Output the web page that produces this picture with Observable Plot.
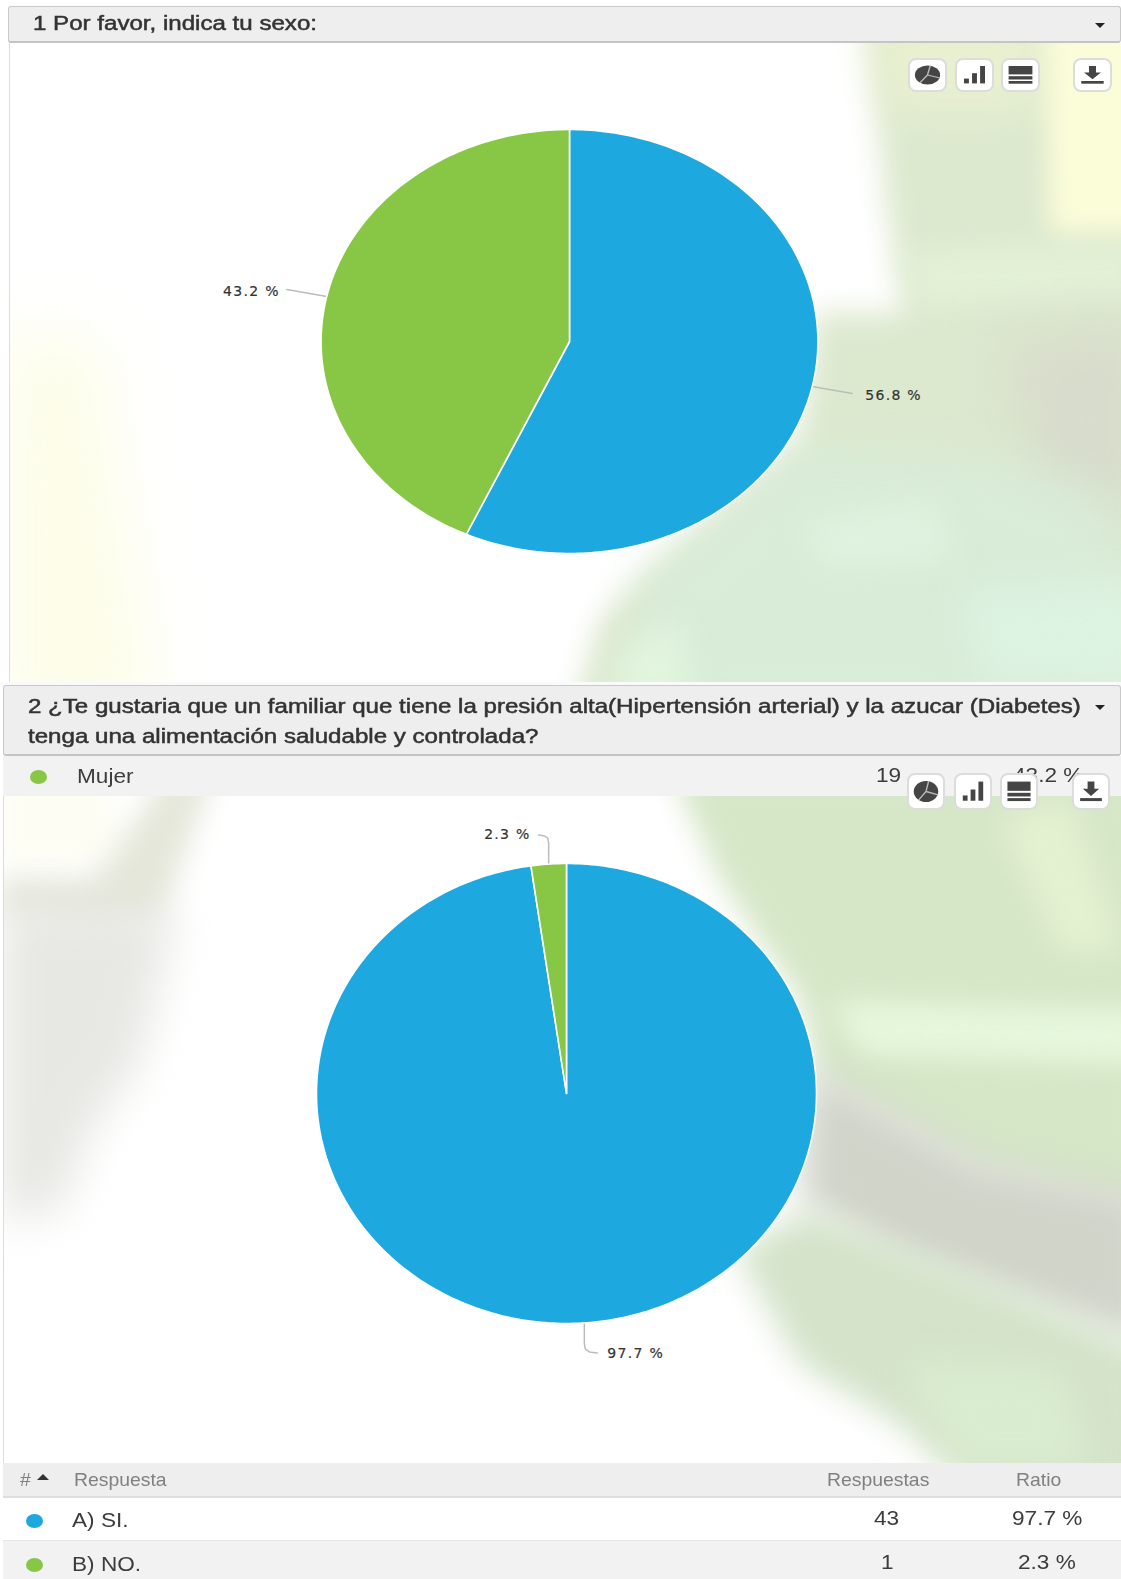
<!DOCTYPE html>
<html lang="es">
<head>
<meta charset="utf-8">
<title>Encuesta</title>
<script src="https://cdn.jsdelivr.net/npm/d3@7"></script>
<script src="https://cdn.jsdelivr.net/npm/@observablehq/plot@0.6"></script>
<style>
html,body{margin:0;padding:0;background:#fff}
#page{position:relative;width:1121px;height:1579px;overflow:hidden;font-family:"Liberation Sans",Arial,sans-serif;background:#fff}
.abs{position:absolute}
.panel{position:absolute;overflow:hidden;background:#fff}
.blurwrap{position:absolute;inset:-60px}
.blob{position:absolute;inset:0}
.bar{position:absolute;background:#eeeeee;border:1px solid #c9c9c9;border-bottom:2px solid #c4c4c4;border-radius:3px;box-sizing:border-box}
.title{position:absolute;font-size:20px;line-height:24px;color:#333;white-space:nowrap;-webkit-text-stroke:.5px #333;transform:scaleX(1.205);transform-origin:0 50%}
.caret{position:absolute;width:0;height:0;border-left:5px solid transparent;border-right:5px solid transparent;border-top:5px solid #222}
.row{position:absolute;left:3px;right:0}
.cell{position:absolute;font-size:20px;line-height:24px;color:#3c3c3c;white-space:nowrap;transform:scaleX(1.13);transform-origin:0 50%}
.head{color:#808080;font-size:19px;transform:scaleX(1.02)}
.dot{position:absolute;width:17px;height:14px;border-radius:50%}
.icon{position:absolute;background:#fff;border:2px solid #dcdcdc;border-radius:8px;box-sizing:border-box}
.icon svg{position:absolute;inset:0;width:100%;height:100%}
.chart{position:absolute}
.chart svg{max-width:none;display:block;background:transparent}
.chart text{letter-spacing:1.3px;stroke:#333;stroke-width:.2px}
</style>
</head>
<body>
<div id="page"></div>
<script>
// ---- chart data ----
const q1Title = "1 Por favor, indica tu sexo:";
const q1Names = ["Hombre", "Mujer"];
const q1Counts = [25, 19];
const q1Ratios = ["56.8 %", "43.2 %"];

const q2TitleLines = [
  "2 ¿Te gustaria que un familiar que tiene la presión alta(Hipertensión arterial) y la azucar (Diabetes)",
  "tenga una alimentación saludable y controlada?"
];
const q2Names = ["A) SI.", "B) NO."];
const q2Counts = [43, 1];
const q2Ratios = ["97.7 %", "2.3 %"];

const tableHeads = ["#", "Respuesta", "Respuestas", "Ratio"];
const sliceColors = ["#1ea8e0", "#88c646"];

// ---- page helpers ----
const page = document.getElementById("page");
function el(cls, css, text, parent) {
  const d = document.createElement("div");
  d.className = cls;
  d.style.cssText = css;
  if (text != null) d.textContent = text;
  (parent || page).appendChild(d);
  return d;
}
// polygons given in page pixels, shifted into the panel's blurred layer
function blobs(panel, ox, oy, list) {
  for (const [pts, color, blur] of list) {
    const poly = pts.map(([x, y]) => `${x - ox + 60}px ${y - oy + 60}px`).join(",");
    const wrap = el("blurwrap", `filter:blur(${blur}px)`, null, panel);
    el("blob", `background:${color};clip-path:polygon(${poly})`, null, wrap);
  }
}

// ---- blurred photographic background ----
const p1 = el("panel", "left:9px;top:43px;width:1112px;height:639px;border-left:1px solid #dcdcdc");
blobs(p1, 10, 43, [
  [[[0, 335], [100, 335], [120, 480], [160, 720], [0, 720]], "#fdfde9", 32],
  [[[868, 20], [1150, 20], [1150, 720], [570, 720], [600, 620], [640, 580], [800, 440], [815, 312], [905, 312], [885, 200]], "#dde9cf", 14],
  [[[870, 20], [1045, 20], [1040, 110], [885, 110]], "#e8f0cf", 22],
  [[[1044, 20], [1150, 20], [1150, 235], [1050, 235]], "#fbfcd8", 12],
  [[[900, 252], [1150, 245], [1150, 300], [920, 305]], "#e3f1d6", 16],
  [[[1000, 340], [1150, 320], [1150, 520], [1040, 500]], "#d7dccb", 28],
  [[[800, 450], [1000, 460], [1100, 500], [1150, 620], [1150, 720], [640, 720], [640, 590]], "#d8ecd8", 24],
  [[[960, 590], [1150, 580], [1150, 690], [980, 680]], "#ddf3e1", 20],
  [[[800, 520], [930, 500], [960, 560], [820, 570]], "#dff2df", 16],
  [[[620, 650], [680, 620], [690, 700], [610, 700]], "#e2f5de", 16]
]);

const p2 = el("panel", "left:3px;top:796px;width:1118px;height:668px;border-left:1px solid #dcdcdc");
blobs(p2, 4, 796, [
  [[[0, 770], [110, 770], [120, 860], [0, 865]], "#fdfdf3", 14],
  [[[0, 880], [95, 880], [170, 770], [215, 770], [160, 920], [100, 930], [0, 915]], "#e4e7d9", 14],
  [[[0, 905], [175, 910], [140, 1060], [90, 1130], [60, 1210], [0, 1220]], "#e7e7e3", 22],
  [[[670, 770], [1150, 770], [1150, 1210], [980, 1170], [820, 1080], [800, 1000], [720, 880]], "#d6e7c8", 14],
  [[[830, 1000], [1150, 1010], [1150, 1065], [860, 1055]], "#e6f7dc", 14],
  [[[1000, 820], [1070, 800], [1121, 950], [1060, 950]], "#e4f1d0", 14],
  [[[810, 1065], [980, 1160], [1150, 1195], [1150, 1345], [900, 1260], [800, 1200]], "#d0d4c9", 18],
  [[[735, 1250], [810, 1210], [1010, 1290], [1150, 1350], [1150, 1500], [985, 1500], [900, 1425], [800, 1365]], "#d4e3ca", 16],
  [[[900, 1360], [1060, 1370], [1090, 1470], [960, 1470]], "#daeccf", 18]
]);

// ---- slices and labels drawn by Plot ----
function piePlot({names, counts, ratios, rx, ry, width, height, leaders}) {
  const arcs = d3.pie().sort(null).value(d => d)(counts);
  const slices = [];
  arcs.forEach((a, i) => {
    slices.push({name: names[i], x: 0, y: 0});
    const steps = Math.max(2, Math.ceil((a.endAngle - a.startAngle) * 60));
    for (let k = 0; k <= steps; ++k) {
      const t = a.startAngle + (a.endAngle - a.startAngle) * k / steps;
      slices.push({name: names[i], x: Math.sin(t), y: Math.cos(t)});
    }
    slices.push({name: names[i], x: 0, y: 0});
  });
  const connectors = [], labels = [];
  arcs.forEach((a, i) => {
    const m = (a.startAngle + a.endAngle) / 2;
    const mx = Math.sin(m), my = Math.cos(m);
    const at = ([dx, dy]) => ({x: mx + dx / rx, y: my - dy / ry});
    for (const o of leaders[i].path) connectors.push({name: names[i], ...at(o)});
    labels.push({text: ratios[i], anchor: leaders[i].anchor, ...at(leaders[i].label)});
  });
  const textMark = anchor => Plot.text(labels.filter(d => d.anchor === anchor), {
    x: "x", y: "y", text: "text", textAnchor: anchor,
    fontFamily: "DejaVu Sans", fontSize: 14, fill: "#333"
  });
  return Plot.plot({
    width, height, margin: 0,
    style: {background: "transparent"},
    x: {domain: [-width / 2 / rx, width / 2 / rx], range: [0, width], axis: null},
    y: {domain: [-height / 2 / ry, height / 2 / ry], range: [height, 0], axis: null},
    color: {domain: names, range: sliceColors},
    marks: [
      Plot.line(connectors, {x: "x", y: "y", z: "name", stroke: "#bcbcbc", strokeWidth: 1.5, curve: "linear"}),
      Plot.line(slices, {x: "x", y: "y", z: "name", fill: "name", stroke: "#fff", strokeWidth: 1.6, curve: "linear"}),
      textMark("start"),
      textMark("end")
    ]
  });
}
function place(plot, cx, cy, w, h) {
  const c = el("chart", `left:${cx - w / 2}px;top:${cy - h / 2}px;width:${w}px;height:${h}px`);
  c.appendChild(plot);
}

place(piePlot({
  names: q1Names, counts: q1Counts, ratios: q1Ratios,
  rx: 248.4, ry: 212, width: 720, height: 620,
  leaders: [
    {path: [[0, 0], [40, 7]], label: [53, 9], anchor: "start"},
    {path: [[0, 0], [-40, -7]], label: [-47, -5], anchor: "end"}
  ]
}), 569, 341.4, 720, 620);

place(piePlot({
  names: q2Names, counts: q2Counts, ratios: q2Ratios,
  rx: 250, ry: 230, width: 720, height: 560,
  leaders: [
    {path: [[0, 0], [0, 21], [1, 26], [5, 29], [13, 30]], label: [23, 31], anchor: "start"},
    {path: [[0, 0], [0, -21], [-1, -26], [-4, -28], [-10, -29]], label: [-18, -30], anchor: "end"}
  ]
}), 566.3, 1092.8, 720, 560);

// ---- question bars ----
el("bar", "left:8px;top:6px;width:1113px;height:37px");
el("title", "left:33px;top:11px", q1Title);
el("caret", "left:1095px;top:23px");

el("abs", "left:0;top:682px;width:1121px;height:4px;background:#fafafa");
el("bar", "left:3px;top:685px;width:1118px;height:71px");
el("title", "left:28px;top:694px", q2TitleLines[0]);
el("title", "left:28px;top:724px", q2TitleLines[1]);
el("caret", "left:1095px;top:705px");

// leftover row of the first question's table
el("row", "top:756px;height:40px;background:#f2f2f2");
el("dot", `left:30px;top:770px;background:${sliceColors[1]}`);
el("cell", "left:77px;top:764px", q1Names[1]);
el("cell", "left:876px;top:763px", String(q1Counts[1]));
el("cell", "left:1013px;top:763px", q1Ratios[1]);

// ---- tool buttons ----
const glyphs = [
  '<ellipse cx="50" cy="50" rx="36" ry="32" fill="#454545"/><path d="M50 50L58 18M50 50L86 60M50 50L28 76" stroke="#bbb" stroke-width="4" fill="none"/>',
  '<rect x="20" y="62" width="14" height="16" fill="#454545"/><rect x="43" y="44" width="14" height="34" fill="#454545"/><rect x="66" y="20" width="14" height="58" fill="#454545"/>',
  '<rect x="16" y="20" width="68" height="28" fill="#454545"/><rect x="16" y="54" width="68" height="11" fill="#454545"/><rect x="16" y="70" width="68" height="9" fill="#454545"/>',
  '<path d="M40 20H60V42H74L50 64L26 42H40Z" fill="#454545"/><rect x="18" y="70" width="64" height="9" fill="#454545"/>'
];
function icons(xs, y, w, h) {
  xs.forEach((x, i) => {
    const b = el("icon", `left:${x}px;top:${y}px;width:${w}px;height:${h}px`);
    b.innerHTML = `<svg viewBox="0 0 100 100" preserveAspectRatio="none">${glyphs[i]}</svg>`;
  });
}
icons([908, 955, 1001, 1073], 58, 39, 34);
icons([907, 954, 1000, 1072], 773, 38, 37);

// ---- answers table ----
el("row", "top:1463px;height:35px;background:#eeeeee;border-bottom:2px solid #dedede;box-sizing:border-box");
el("cell head", "left:20px;top:1468px", tableHeads[0]);
el("abs", "left:37px;top:1474px;width:0;height:0;border-left:6px solid transparent;border-right:6px solid transparent;border-bottom:6px solid #333");
el("cell head", "left:74px;top:1468px", tableHeads[1]);
el("cell head", "left:827px;top:1468px", tableHeads[2]);
el("cell head", "left:1016px;top:1468px", tableHeads[3]);

el("row", "top:1498px;height:42px;background:#fff");
el("row", "top:1540px;height:39px;background:#f2f2f2;border-top:1px solid #e6e6e6;box-sizing:border-box");
q2Names.forEach((name, i) => {
  const y = [1507, 1551][i];
  el("dot", `left:26px;top:${y + 7}px;background:${sliceColors[i]}`);
  el("cell", `left:72px;top:${y + 1}px`, name);
  el("cell", `left:${[874, 881][i]}px;top:${y - 1}px`, String(q2Counts[i]));
  el("cell", `left:${[1012, 1018][i]}px;top:${y - 1}px`, q2Ratios[i]);
});
</script>
</body>
</html>
